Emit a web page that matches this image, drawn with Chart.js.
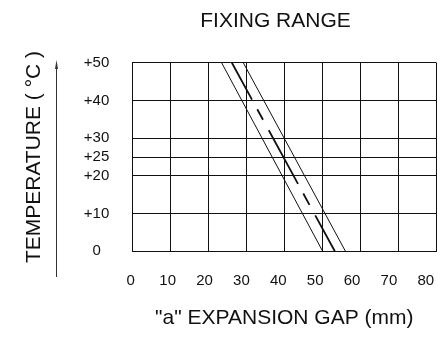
<!DOCTYPE html>
<html>
<head>
<meta charset="utf-8">
<script src="https://cdn.jsdelivr.net/npm/chart.js@4.4.1/dist/chart.umd.min.js"></script>
<style>
  html, body { margin: 0; padding: 0; background: #fff; }
  canvas { display: block; }
</style>
</head>
<body>
<canvas id="chart" width="440" height="338"></canvas>
<script>
// valores (de arriba a abajo)
const temps = [50, 0];
const gapMin = [23.5, 50.1];   // línea izquierda
const gapNom = [26.2, 53.3];   // línea discontinua central
const gapMax = [29.2, 56.1];   // línea derecha
const xTicks = [0, 10, 20, 30, 40, 50, 60, 70, 80];
const yTicks = [0, 10, 20, 25, 30, 40, 50];

const FONT = "'Liberation Sans', Arial, sans-serif";
const INK = "#111";

const toPoints = gaps => gaps.map((g, i) => ({ x: g, y: temps[i] }));
const setTicks = list => scale => { scale.ticks = list.map(v => ({ value: v })); };

// título superior y flecha del eje Y
const extras = {
  id: "extras",
  afterDraw(chart) {
    const ctx = chart.ctx;
    ctx.save();
    ctx.fillStyle = INK;
    ctx.font = "21px " + FONT;
    ctx.textAlign = "center";
    ctx.textBaseline = "middle";
    ctx.fillText("FIXING RANGE", 275.5, 21.5);

    ctx.strokeStyle = "#333";
    ctx.lineWidth = 1;
    ctx.beginPath();
    ctx.moveTo(56.5, 277);
    ctx.lineTo(56.5, 66);
    ctx.stroke();
    ctx.fillStyle = "#333";
    ctx.beginPath();
    ctx.moveTo(56.5, 60);
    ctx.lineTo(55, 69);
    ctx.lineTo(58, 69);
    ctx.closePath();
    ctx.fill();
    ctx.restore();
  }
};

new Chart(document.getElementById("chart"), {
  type: "line",
  data: {
    datasets: [
      { data: toPoints(gapMin), borderColor: INK, borderWidth: 1, pointRadius: 0 },
      { data: toPoints(gapNom), borderColor: INK, borderWidth: 1.8, pointRadius: 0,
        borderDash: [42, 11, 12, 12, 61, 11, 13, 12, 45] },
      { data: toPoints(gapMax), borderColor: INK, borderWidth: 1, pointRadius: 0 }
    ]
  },
  options: {
    responsive: false,
    animation: false,
    layout: { padding: { top: 62.7, right: 3.7, left: 0, bottom: 0 } },
    plugins: { legend: { display: false }, tooltip: { enabled: false } },
    scales: {
      // rejilla
      x: {
        type: "linear", min: 0, max: 80,
        afterBuildTicks: setTicks(xTicks),
        ticks: { display: false },
        grid: { color: INK, drawTicks: false },
        border: { color: INK },
        afterFit: s => { s.height = 0; s.paddingLeft = 0; s.paddingRight = 0; }
      },
      // etiquetas del eje X (en el original se desplazan un poco a la izquierda)
      xLabels: {
        type: "linear", position: "bottom", min: 0.41, max: 82.85,
        afterBuildTicks: setTicks(xTicks),
        grid: { display: false },
        border: { display: false },
        ticks: { autoSkip: false, maxRotation: 0, padding: 13, color: INK,
                 font: { size: 15, family: FONT } },
        title: { display: true, text: '"a" EXPANSION GAP (mm)', color: INK,
                 font: { size: 21, family: FONT }, padding: { top: 0, bottom: 7 } },
        afterFit: s => { s.height = 86.7; s.paddingLeft = 0; s.paddingRight = 0; }
      },
      y: {
        type: "linear", min: 0, max: 50,
        afterBuildTicks: setTicks(yTicks),
        ticks: { padding: 23, crossAlign: "center", color: INK,
                 font: { size: 15, family: FONT },
                 callback: v => v === 0 ? "0" : "+" + v },
        grid: { color: INK, drawTicks: false },
        border: { color: INK },
        title: { display: true, text: "TEMPERATURE ( °C )", color: INK,
                 font: { size: 21, family: FONT }, padding: { top: 22, bottom: 0 } },
        afterFit: s => { s.width = 132.3; s.paddingTop = 0; s.paddingBottom = 0; }
      }
    }
  },
  plugins: [extras]
});
</script>
</body>
</html>
